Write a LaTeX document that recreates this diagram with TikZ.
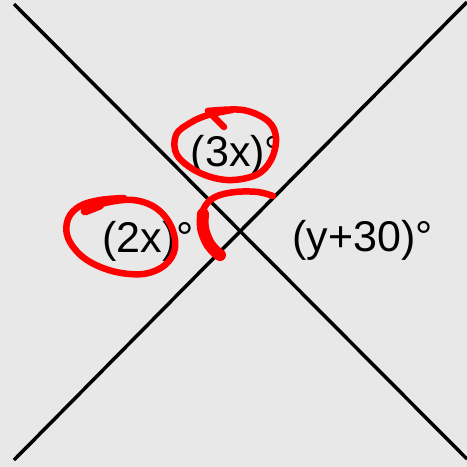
\documentclass[tikz,border=0pt]{standalone}
\usepackage{fontspec}
\setmainfont{Liberation Sans}
\definecolor{bggray}{HTML}{E8E8E8}
\definecolor{penred}{HTML}{FF0000}

\begin{document}
\begin{tikzpicture}[x=1pt, y=-1pt,
    anglelabel/.style={anchor=base, inner sep=0pt, font=\fontsize{43}{45}\selectfont},
    ink/.style={draw=penred, line width=6.5pt, line cap=round, line join=round}]
    % Background, fixes the size of the page
    \fill[bggray] (0,0) rectangle (467,467);
    \useasboundingbox (0,0) rectangle (467,467);

    % End points of the two crossing lines
    \coordinate (a1) at (14,4);
    \coordinate (a2) at (467,459);
    \coordinate (b1) at (14,460);
    \coordinate (b2) at (467,2);

    % Draw the lines
    \draw[line width=3.5pt] (a1) -- (a2);
    \draw[line width=3.5pt] (b1) -- (b2);

    % Angle labels
    \node[anglelabel] (top) at (236.5,166) {(3x)°};
    \node[anglelabel] (left) at (148,252) {(2x)°};
    \node[anglelabel] (right) at (362.5,251) {(y+30)°};

    % Red pen marks
    \draw[ink] (224,127) -- (208,111);
    \draw[ink] plot[smooth, tension=0.6] coordinates {(208,111) (243,110) (268,121) (276,138) (271,160) (256,175) (227,180) (198,172) (177,155) (176,135) (190,123) (208,115) (232,110)};
    \draw[ink] plot[smooth, tension=0.6] coordinates {(85,211) (105,203) (133,200) (156,208) (171,226) (175,248) (165,265) (143,274) (112,271) (84,258) (68,238) (68,219) (80,206) (100,200) (124,198)};
    \draw[ink, line width=9pt] (85,211) -- (100,205);
    \draw[ink] plot[smooth, tension=0.6] coordinates {(273,196) (258,192) (235,192) (215,197) (204,208) (201,224) (206,240) (214,252) (222,257)};
    \draw[ink, line width=12pt] plot[smooth, tension=0.6] coordinates {(203,214) (203,228) (208,242) (215,251) (220,255)};
\end{tikzpicture}
\end{document}
